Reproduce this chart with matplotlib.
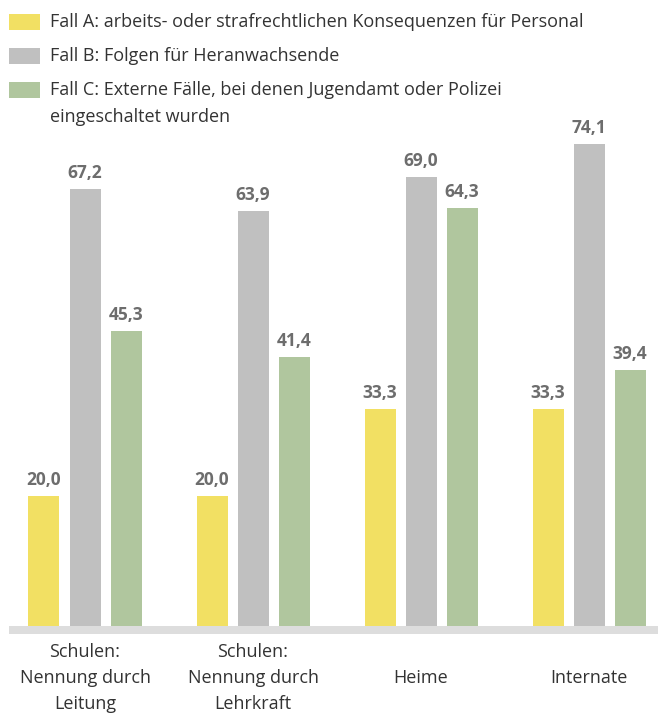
import matplotlib
matplotlib.use("Agg")
import matplotlib.pyplot as plt
from matplotlib.patches import Rectangle
import numpy as np

# data
categories = ["Schulen:\nNennung durch\nLeitung", "Schulen:\nNennung durch\nLehrkraft",
              "Heime", "Internate"]
series_names = ["Fall A: arbeits- oder strafrechtlichen Konsequenzen für Personal",
                "Fall B: Folgen für Heranwachsende",
                "Fall C: Externe Fälle, bei denen Jugendamt oder Polizei\neingeschaltet wurden"]
fall_a = [20.0, 20.0, 33.3, 33.3]
fall_b = [67.2, 63.9, 69.0, 74.1]
fall_c = [45.3, 41.4, 64.3, 39.4]
colors = ["#f2e063", "#c0c0c0", "#b0c69e"]

plt.rcParams['font.family'] = ['Open Sans', 'DejaVu Sans']

W, H = 658, 715
fig = plt.figure(figsize=(W / 100, H / 100), dpi=100)

# axes placed in pixel terms
ax = fig.add_axes([9 / W, 81 / H, 649 / W, 528 / H])
ax.set_xlim((9 - 85) / 168, (658 - 85) / 168)
ax.set_ylim(-1.3, 80)
for s in ax.spines.values():
    s.set_visible(False)
ax.set_yticks([])
ax.set_xticks([])
ax.axhspan(-1.3, 0, color="#dddddd", lw=0)

x = np.arange(len(categories))
width = 31 / 168
step = 41 / 168
for i, vals in enumerate([fall_a, fall_b, fall_c]):
    bars = ax.bar(x + (i - 1) * step, vals, width, color=colors[i], lw=0)
    for b, v in zip(bars, vals):
        ax.annotate(("%.1f" % v).replace(".", ","), (b.get_x() + b.get_width() / 2, v),
                    xytext=(0, 5), textcoords="offset points", ha="center", va="bottom",
                    fontsize=12.5, fontweight="bold", color="#6d6d6d")

# category labels, centred at pixel row 678
for xi, lab in zip(x, categories):
    ax.text(xi, -(678 - 634) / 528, lab, transform=ax.get_xaxis_transform(),
            ha="center", va="center", fontsize=13, color="#333333", linespacing=1.6)

# legend drawn by hand
ys = [22, 56, 90]
for c, name, yc in zip(colors, series_names, ys):
    fig.patches.append(Rectangle((9 / W, 1 - (yc + 8) / H), 31 / W, 16 / H,
                                 transform=fig.transFigure, color=c, lw=0))
    if "\n" in name:
        fig.text(50 / W, 1 - (yc - 9) / H, name, ha="left", va="top",
                 fontsize=13, color="#333333", linespacing=1.65)
    else:
        fig.text(50 / W, 1 - yc / H, name, ha="left", va="center",
                 fontsize=13, color="#333333")

fig.savefig("out.png", dpi=100)
